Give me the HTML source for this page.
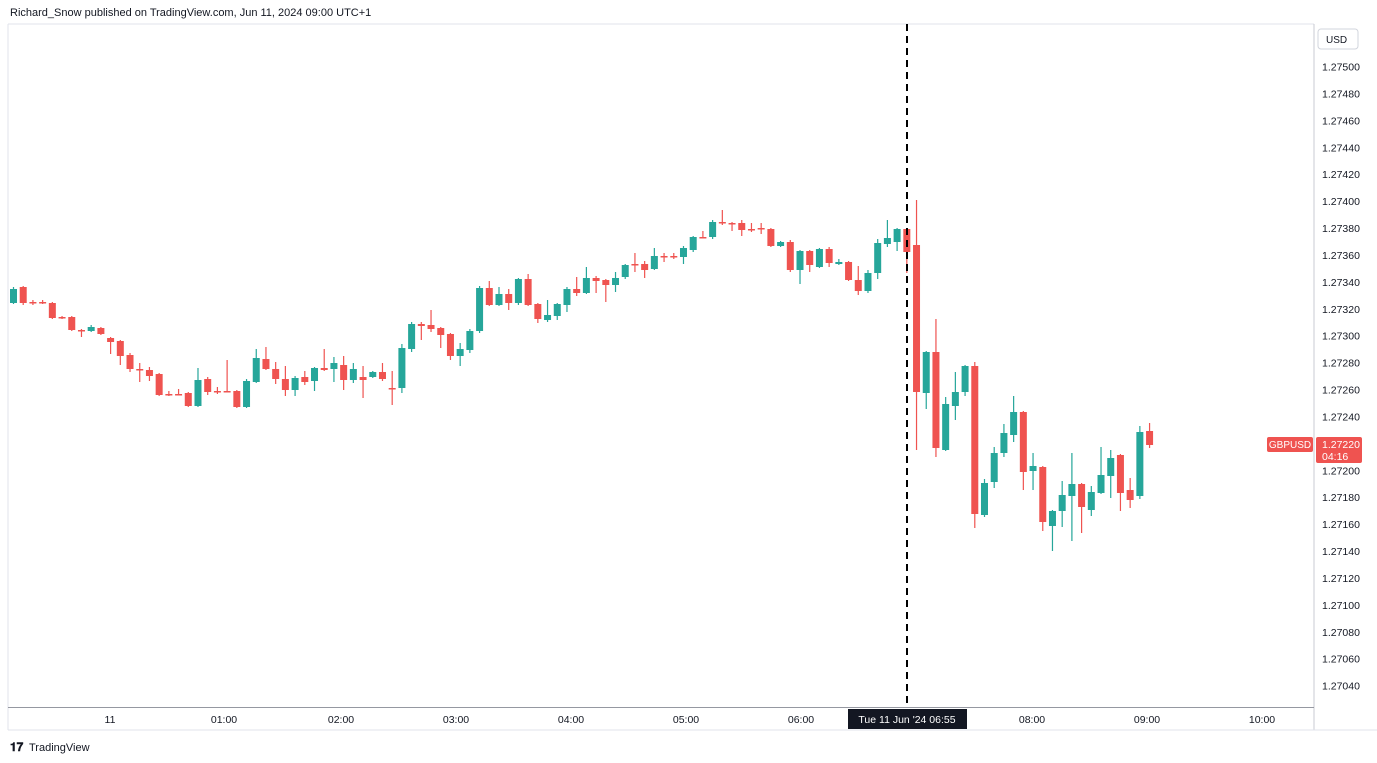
<!DOCTYPE html>
<html><head><meta charset="utf-8"><style>
body{margin:0;width:1377px;height:763px;background:#fff;overflow:hidden;font-family:"Liberation Sans",sans-serif}
svg{position:absolute;left:0;top:0}
</style></head><body>
<svg id="s" width="1377" height="763" xmlns="http://www.w3.org/2000/svg">
<rect x="0" y="0" width="1377" height="763" fill="#fff"/>
<line x1="8" y1="24" x2="8" y2="730" stroke="#e0e3eb"/>
<line x1="8" y1="24" x2="1314" y2="24" stroke="#e0e3eb"/>
<line x1="1314" y1="24" x2="1314" y2="730" stroke="#c8cbd3"/>
<line x1="8" y1="707.5" x2="1314" y2="707.5" stroke="#9598a1"/>
<line x1="8" y1="730" x2="1377" y2="730" stroke="#e0e3eb"/>
<text x="10" y="16" font-size="11" fill="#131722">Richard_Snow published on TradingView.com, Jun 11, 2024 09:00 UTC+1</text>
<rect x="1318" y="29" width="40" height="20" rx="3" fill="#fff" stroke="#d1d4dc"/>
<text x="1326" y="43" font-size="10" fill="#131722">USD</text>
<g id="ax" font-size="10.5" fill="#131722"></g>
<g id="tx" font-size="10.5" fill="#131722" text-anchor="middle"></g>
<g id="c"></g>
<line x1="907" y1="24" x2="907" y2="707" stroke="#000" stroke-width="2" stroke-dasharray="7,5"/>
<rect x="848" y="709" width="119" height="20" fill="#131722"/>
<text x="907" y="723" font-size="10.5" fill="#fff" text-anchor="middle">Tue 11 Jun '24   06:55</text>
<rect x="1267" y="437" width="46" height="15" rx="2" fill="#ef5350"/>
<text x="1290" y="448" font-size="10" fill="#fff" text-anchor="middle">GBPUSD</text>
<rect x="1316" y="437" width="46" height="26" rx="2" fill="#ef5350"/>
<text x="1322" y="448" font-size="10.5" fill="#fff">1.27220</text>
<text x="1322" y="460" font-size="10.5" fill="#fff">04:16</text>
<text x="10" y="751" font-size="12" font-weight="bold" fill="#131722">𝟏𝟕</text>
<text x="29" y="751" font-size="11" fill="#131722">TradingView</text>
</svg>
<script>
var NS="http://www.w3.org/2000/svg";
function el(p,t,a,txt){var e=document.createElementNS(NS,t);for(var k in a)e.setAttribute(k,a[k]);if(txt)e.textContent=txt;p.appendChild(e);return e;}
var ax=document.getElementById('ax');
for(var i=0;i<30;i++){var v=1.275-i*0.0002;var y=66.5+i*26.92;if(y>695)break;el(ax,'text',{x:1322,y:y+4},v.toFixed(5));}
var tx=document.getElementById('tx');
[["11",110],["01:00",224],["02:00",341],["03:00",456],["04:00",571],["05:00",686],["06:00",801],["08:00",1032],["09:00",1147],["10:00",1262]].forEach(function(a){el(tx,'text',{x:a[1],y:723},a[0]);});
var d=[[303,289,287,304],[287,303,286,305],[302,302,300,305],[302,302,300,304],[303,318,302,319],[317,317,316,319],[317,330,316,331],[330,330,329,337],[331,327,325,332],[328,334,327,335],[338,342,337,354],[341,356,340,365],[355,369,353,372],[369,369,363,382],[370,376,367,381],[374,395,373,396],[394,394,391,396],[394,394,389,395],[393,406,392,407],[406,380,368,407],[379,392,377,395],[391,391,387,394],[391,391,360,392],[391,407,390,408],[407,381,379,408],[382,358,349,383],[359,369,347,370],[369,379,362,384],[379,390,366,396],[390,378,376,396],[377,382,371,385],[381,368,367,391],[368,370,349,371],[369,363,357,382],[365,380,356,390],[380,369,363,383],[377,380,366,398],[377,372,371,378],[372,379,363,381],[388,388,371,405],[388,348,344,393],[349,324,322,352],[324,326,322,340],[325,329,310,332],[328,335,327,348],[334,356,333,360],[356,349,343,366],[350,331,329,353],[331,288,286,333],[288,305,281,306],[305,294,287,306],[294,303,289,310],[303,279,278,305],[279,305,274,306],[304,319,303,323],[320,315,300,322],[316,304,303,320],[305,289,287,312],[289,293,277,296],[293,278,267,294],[278,281,276,293],[280,285,279,302],[285,278,272,292],[277,265,264,279],[264,264,253,272],[264,270,261,278],[269,256,248,270],[256,256,253,262],[256,256,253,259],[257,248,246,264],[250,237,236,252],[237,237,231,238],[237,222,220,239],[222,223,210,225],[223,224,222,231],[223,230,220,236],[229,229,223,232],[228,228,223,234],[229,246,228,247],[246,242,241,247],[242,270,240,272],[270,251,250,284],[251,265,250,272],[267,249,248,268],[249,263,247,267],[264,262,259,265],[262,280,261,281],[280,291,266,295],[291,273,270,293],[273,243,239,279],[244,238,220,247],[242,229,228,251],[229,252,228,273],[245,392,200,450],[393,352,351,409],[352,448,319,457],[450,404,397,451],[406,392,372,420],[392,366,365,396],[366,514,362,528],[515,483,479,517],[482,453,447,488],[453,433,424,457],[435,412,396,442],[412,472,411,490],[471,466,453,490],[467,522,466,531],[526,511,510,551],[511,495,481,527],[496,484,453,541],[484,507,483,533],[510,492,486,516],[493,475,447,494],[476,458,450,498],[455,493,454,511],[490,500,478,508],[496,432,426,499],[431,445,423,448]];
var g=document.getElementById('c');
d.forEach(function(c,i){var x=13.5+i*9.71;var up=c[1]<c[0];var col=up?'#26a69a':'#ef5350';
el(g,'line',{x1:x,x2:x,y1:c[2],y2:c[3],stroke:col,'stroke-width':1.2});
var t=Math.min(c[0],c[1]),h=Math.max(1.5,Math.abs(c[0]-c[1]));
el(g,'rect',{x:x-3.5,y:t,width:7,height:h,fill:col});});
</script>
</body></html>
